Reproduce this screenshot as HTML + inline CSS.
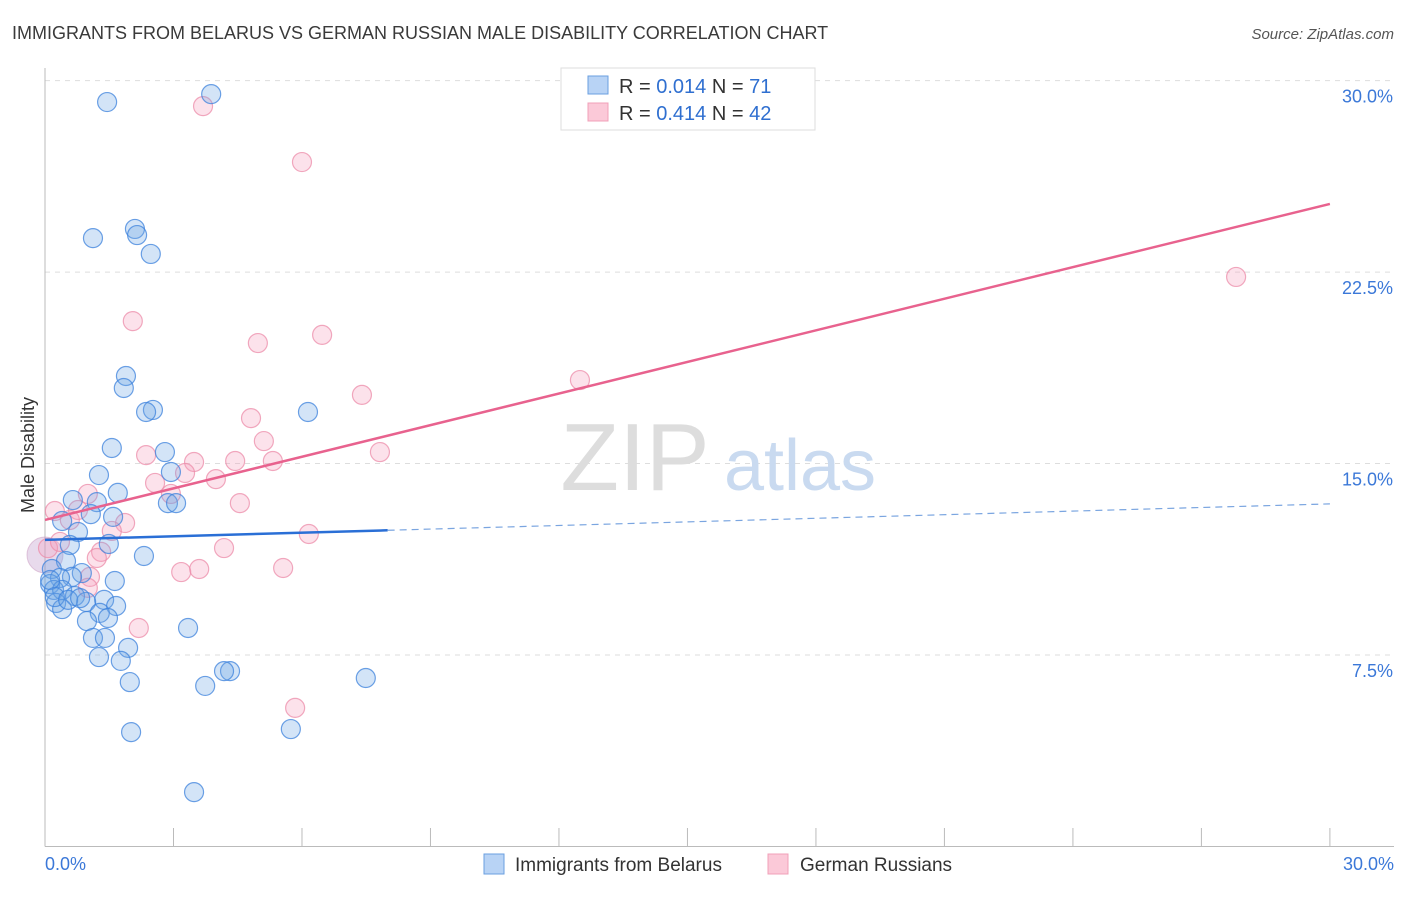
<!DOCTYPE html>
<html><head><meta charset="utf-8"><style>
body{margin:0;background:#fff;font-family:"Liberation Sans",sans-serif}
svg text{font-family:"Liberation Sans",sans-serif}
</style></head><body>
<svg id="chart" width="1406" height="892" viewBox="0 0 1406 892">
<text x="12" y="39" font-size="18" fill="#3a3a3a">IMMIGRANTS FROM BELARUS VS GERMAN RUSSIAN MALE DISABILITY CORRELATION CHART</text>
<text x="1394" y="39" font-size="15" fill="#555" font-style="italic" text-anchor="end">Source: ZipAtlas.com</text>
<text x="34" y="455" font-size="18" fill="#333" transform="rotate(-90 34 455)" text-anchor="middle">Male Disability</text>
<g id="grid"></g>
<g id="watermark">
<text x="635" y="490" font-size="96" fill="#ddd" font-family="Liberation Serif" text-anchor="middle">ZIP</text>
<text x="800" y="490" font-size="72" fill="#c9daf0" text-anchor="middle">atlas</text></g>
<g id="pts"></g>
<g id="lines"></g>
<g>
<rect x="561" y="68" width="254" height="62" fill="#fff" stroke="#ddd"/>
<rect x="588" y="76" width="20" height="18" fill="#b8d3f5" stroke="#6a9fe0"/>
<rect x="588" y="103" width="20" height="18" fill="#fbc9d8" stroke="#f0a0b8"/>
<text x="619" y="93" font-size="20" fill="#333">R = <tspan fill="#2f6fd0">0.014</tspan>   N = <tspan fill="#2f6fd0"> 71</tspan></text>
<text x="619" y="120" font-size="20" fill="#333">R = <tspan fill="#2f6fd0">0.414</tspan>   N = <tspan fill="#2f6fd0">42</tspan></text>
</g>
<g>
<rect x="484" y="854" width="20" height="20" fill="#b8d3f5" stroke="#6a9fe0"/>
<text x="515" y="871" font-size="19" fill="#333">Immigrants from Belarus</text>
<rect x="768" y="854" width="20" height="20" fill="#fbc9d8" stroke="#f0a0b8"/>
<text x="800" y="871" font-size="19" fill="#333">German Russians</text>
</g>
</svg>
<script>
const yTicks=[7.5,15,22.5,30];
const yTickLabels=["7.5%","15.0%","22.5%","30.0%"];
const xTicks=[0,3,6,9,12,15,18,21,24,27,30];
const blueX=[1.45,3.88,1.12,2.10,2.15,2.47,1.89,1.84,2.52,2.36,6.14,1.56,2.80,1.26,2.94,1.70,0.65,1.21,2.87,3.06,1.07,1.59,0.40,0.77,0.58,1.49,2.31,0.49,0.16,0.86,0.63,0.35,0.12,1.63,0.21,0.40,0.70,1.38,0.26,0.96,1.66,0.40,1.28,1.47,0.98,3.34,1.12,1.40,1.94,1.26,1.77,4.32,4.18,7.49,1.98,3.74,2.01,5.74,3.48,0.12,0.23,0.54,0.82];
const blueY=[29.16,29.47,23.83,24.19,23.95,23.21,18.43,17.96,17.10,17.02,17.02,15.61,15.45,14.55,14.67,13.85,13.57,13.49,13.45,13.45,13.02,12.91,12.75,12.32,11.81,11.85,11.38,11.18,10.87,10.71,10.56,10.52,10.28,10.40,10.05,10.05,9.81,9.66,9.54,9.58,9.42,9.30,9.15,8.95,8.83,8.56,8.17,8.17,7.78,7.42,7.27,6.87,6.87,6.60,6.44,6.29,4.48,4.60,2.13,10.44,9.77,9.66,9.73];
const pinkX=[3.69,6.00,2.05,6.47,4.97,7.40,12.49,27.81,4.81,5.11,7.82,2.36,3.48,4.44,5.32,2.57,3.99,3.27,2.94,1.00,4.55,0.23,0.77,1.87,0.58,1.56,6.16,4.18,0.07,1.31,1.21,5.56,3.60,3.18,1.05,1.00,2.19,5.84,0.35];
const pinkY=[29.00,26.81,20.58,20.04,19.72,17.69,18.27,22.31,16.78,15.88,15.45,15.33,15.06,15.10,15.10,14.24,14.39,14.63,13.81,13.81,13.45,13.14,13.18,12.67,12.79,12.36,12.24,11.69,11.69,11.54,11.30,10.91,10.87,10.75,10.56,10.13,8.56,5.43,11.93];
const blueTrend=[12.01,13.42];
const pinkTrend=[12.79,25.17];
const NS="http://www.w3.org/2000/svg";
const X=v=>45+v*42.83, Y=v=>846.5-v*25.53;
function mk(t,a,p){const e=document.createElementNS(NS,t);for(const k in a)e.setAttribute(k,a[k]);p.appendChild(e);return e;}
const g=document.getElementById('grid');
yTicks.forEach((t,i)=>{
 const l=mk('line',{x1:45,x2:1394,y1:Y(t),y2:Y(t),stroke:'#ddd','stroke-dasharray':'5,5'},g);
 
 
 const tx=mk('text',{x:1393,y:Y(t)+22,'font-size':18,fill:'#3b78d8','text-anchor':'end'},g);
 tx.textContent=yTickLabels[i];
 
 
});
const ax=mk('line',{x1:45,x2:1394,y1:846.5,y2:846.5,stroke:'#bbb'},g);


const ay=mk('line',{x1:45,x2:45,y1:68,y2:846.5,stroke:'#bbb'},g);


xTicks.forEach(t=>{const l=mk('line',{x1:X(t),x2:X(t),y1:828,y2:846.5,stroke:'#bbb'},g);
 
 });
const x0=mk('text',{x:45,y:870,'font-size':18,fill:'#3b78d8'},g);x0.textContent='0.0%';


const x1=mk('text',{x:1394,y:870,'font-size':18,fill:'#3b78d8','text-anchor':'end'},g);x1.textContent='30.0%';


const p=document.getElementById('pts');
const big=mk('circle',{cx:X(0),cy:Y(11.42),r:18,fill:'rgba(190,150,200,0.35)',stroke:'rgba(200,150,190,0.5)'},p);


pinkX.forEach((x,i)=>{const c=mk('circle',{cx:X(x),cy:Y(pinkY[i]),r:9.5,fill:'rgba(245,160,190,0.3)',stroke:'rgba(236,140,170,0.75)','stroke-width':1.2},p);
 
 });
blueX.forEach((x,i)=>{const c=mk('circle',{cx:X(x),cy:Y(blueY[i]),r:9.5,fill:'rgba(110,165,230,0.3)',stroke:'rgba(60,130,220,0.75)','stroke-width':1.2},p);
 
 });
const L=document.getElementById('lines');
const by=x=>blueTrend[0]+(blueTrend[1]-blueTrend[0])*x/30;
const b1=mk('line',{x1:X(0),y1:Y(by(0)),x2:X(8),y2:Y(by(8)),stroke:'#2a6fd6','stroke-width':2.5},L);


const b2=mk('line',{x1:X(8),y1:Y(by(8)),x2:X(30),y2:Y(by(30)),stroke:'#7aa5e0','stroke-width':1.2,'stroke-dasharray':'7,5'},L);


const pl=mk('line',{x1:X(0),y1:Y(pinkTrend[0]),x2:X(30),y2:Y(pinkTrend[1]),stroke:'#e8628e','stroke-width':2.5},L);


</script>
</body></html>
